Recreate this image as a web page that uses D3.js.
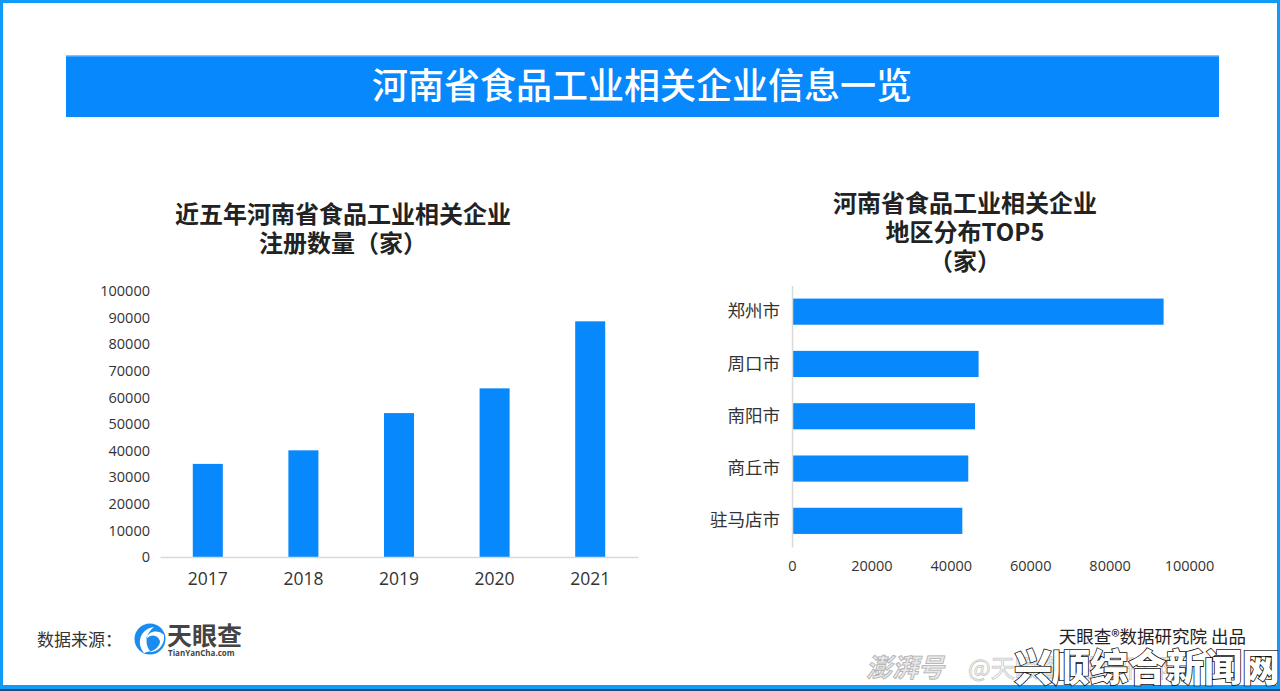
<!DOCTYPE html>
<html><head><meta charset="utf-8">
<script src="https://cdn.jsdelivr.net/npm/d3@7/dist/d3.min.js"></script>
<style>
html,body{margin:0;padding:0;background:#fff;}
svg{display:block;}
text{font-family:"Noto Sans CJK SC","Noto Sans",sans-serif;}
.num{font-family:"Open Sans","Noto Sans",sans-serif;}
</style></head>
<body>
<script>
const years = ["2017","2018","2019","2020","2021"];
const yearValues = [35000, 40100, 54100, 63400, 88600];
const yTicks = [0,10000,20000,30000,40000,50000,60000,70000,80000,90000,100000];
const cities = ["郑州市","周口市","南阳市","商丘市","驻马店市"];
const cityValues = [93600, 47000, 46100, 44400, 42900];
const xTicks = [0,20000,40000,60000,80000,100000];
const mainTitle = "河南省食品工业相关企业信息一览";
const leftTitle = ["近五年河南省食品工业相关企业","注册数量（家）"];
const rightTitle = ["河南省食品工业相关企业","地区分布TOP5","（家）"];

const W=1280,H=691, BLUE="#0788fc", BORDER="#119bf8";
const svg=d3.select("body").append("svg").attr("width",W).attr("height",H);
svg.append("rect").attr("width",W).attr("height",H).attr("fill","#fff");
// border
svg.append("rect").attr("x",1.5).attr("y",1.5).attr("width",W-3).attr("height",H-3)
  .attr("fill","none").attr("stroke",BORDER).attr("stroke-width",3);
svg.append("rect").attr("x",0).attr("y",685).attr("width",W).attr("height",6).attr("fill",BORDER);
svg.append("rect").attr("x",0).attr("y",689).attr("width",W).attr("height",2).attr("fill","#1a4d7a");

// header
svg.append("rect").attr("x",66).attr("y",55).attr("width",1153).attr("height",62).attr("fill",BLUE);
svg.append("rect").attr("x",66).attr("y",55).attr("width",1153).attr("height",1.5).attr("fill","#7cc4ff");
svg.append("text").attr("x",642).attr("y",99).attr("text-anchor","middle")
  .attr("fill","#fff").attr("font-size",36).attr("font-weight",500).text(mainTitle);

// left chart
const lt=svg.append("g");
leftTitle.forEach((t,i)=>lt.append("text").attr("x",343).attr("y",223+i*29).attr("text-anchor","middle")
  .attr("font-size",24).attr("font-weight",700).attr("fill","#222").text(t));
const x1=d3.scaleBand().domain(years).range([160,638]).paddingInner(0.686).paddingOuter(0.343);
const y1=d3.scaleLinear().domain([0,100000]).range([557,291]);
const gl=svg.append("g");
gl.selectAll("rect.bar").data(years).join("rect").attr("class","bar")
  .attr("x",d=>x1(d)).attr("width",x1.bandwidth())
  .attr("y",(d,i)=>y1(yearValues[i])).attr("height",(d,i)=>y1(0)-y1(yearValues[i])).attr("fill",BLUE);
const ya=gl.append("g").attr("transform","translate(160,0)")
  .call(d3.axisLeft(y1).tickValues(yTicks).tickFormat(d3.format("d")).tickSize(0).tickPadding(10));
ya.select(".domain").remove();
ya.selectAll("text").attr("class","num").attr("font-size",14.5).attr("fill","#333");
const xa=gl.append("g").attr("transform","translate(0,557)")
  .call(d3.axisBottom(x1).tickSize(0).tickPadding(16));
xa.select(".domain").attr("stroke","#d9d9d9").attr("stroke-width",1.5);
xa.selectAll("text").attr("class","num").attr("font-size",17.5).attr("fill","#333");

// right chart
const rt=svg.append("g");
rightTitle.forEach((t,i)=>rt.append("text").attr("x",965).attr("y",212+i*29).attr("text-anchor","middle")
  .attr("font-size",24).attr("font-weight",700).attr("fill","#222").text(t));
const x2=d3.scaleLinear().domain([0,100000]).range([792,1189]);
const y2=d3.scaleBand().domain(cities).range([285.5,547]).paddingInner(0.5).paddingOuter(0.25);
const gr=svg.append("g");
gr.selectAll("rect.bar").data(cities).join("rect").attr("class","bar")
  .attr("x",x2(0)).attr("y",d=>y2(d)).attr("height",y2.bandwidth())
  .attr("width",(d,i)=>x2(cityValues[i])-x2(0)).attr("fill",BLUE);
const xb=gr.append("g").attr("transform","translate(0,547)")
  .call(d3.axisBottom(x2).tickValues(xTicks).tickFormat(d3.format("d")).tickSize(0).tickPadding(14));
xb.select(".domain").remove();
xb.selectAll("text").attr("class","num").attr("font-size",14.5).attr("fill","#333");
const yb=gr.append("g").attr("transform","translate(792,0)")
  .call(d3.axisLeft(y2).tickSize(0).tickPadding(12));
yb.select(".domain").attr("stroke","#d9d9d9").attr("stroke-width",1.5);
yb.selectAll("text").attr("font-size",17.5).attr("fill","#333");

// footer source
svg.append("text").attr("x",37).attr("y",646).attr("font-size",17).attr("fill","#333").text("数据来源：");
const logo=svg.append("g").attr("transform","translate(150,639)");
logo.append("circle").attr("r",15.5).attr("fill","#1a8cf0");
logo.append("path").attr("d","M-6,14 C-14,4 -10,-10 4,-12 C-4,-6 -6,4 0,12 Z M14,-4 C8,-10 -2,-8 -4,0 C2,-6 8,-4 10,2 C10,8 4,12 -2,13 C8,14 15,6 14,-4 Z")
  .attr("fill","#fff");
svg.append("text").attr("x",167).attr("y",645).attr("font-size",25).attr("font-weight",700).attr("fill","#444").text("天眼查");
svg.append("text").attr("x",168).attr("y",656).attr("font-size",8).attr("font-weight",700).attr("fill","#444")
  .attr("class","num").text("TianYanCha.com");

svg.append("text").attr("x",1246).attr("y",643).attr("text-anchor","end").attr("font-size",17.5).attr("fill","#222").text("天眼查®数据研究院 出品");

// watermark overlay
svg.append("text").attr("x",866).attr("y",677).attr("font-size",26).attr("font-style","italic").attr("font-weight",700)
  .attr("fill","#e8e8e8").attr("stroke","#b0b0b0").attr("stroke-width",0.8).text("澎湃号");
svg.append("text").attr("x",968).attr("y",677).attr("font-size",24)
  .attr("fill","none").attr("stroke","#c8c8c8").attr("stroke-width",0.8).text("@天眼查数据研究院");
svg.append("text").attr("x",1014).attr("y",681).attr("font-size",38).attr("font-weight",900)
  .attr("fill","#fff").attr("stroke","#111").attr("stroke-width",1.6).attr("paint-order","stroke").text("兴顺综合新闻网");
</script>
</body></html>
